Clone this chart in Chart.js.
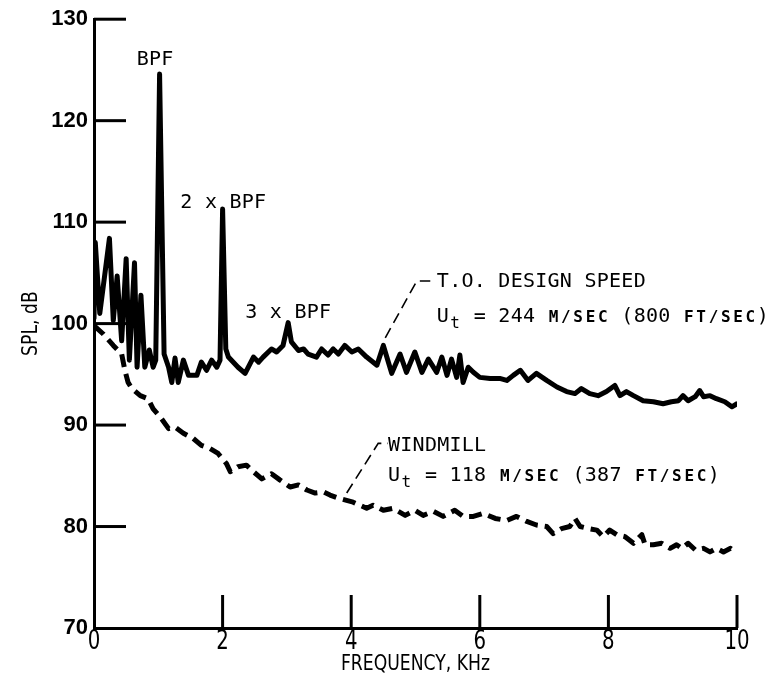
<!DOCTYPE html>
<html>
<head>
<meta charset="utf-8">
<script src="https://cdn.jsdelivr.net/npm/chart.js@4.4.1/dist/chart.umd.min.js"></script>
<style>
  html, body { margin: 0; padding: 0; background: #fff; }
  #grafica { display: block; }
</style>
</head>
<body>
<canvas id="grafica" width="777" height="683"></canvas>
<script>
// Datos: frecuencia (kHz) y nivel SPL (dB)
// Velocidad de diseño T.O. (línea continua)
const freqDiseno = [0.00, 0.02, 0.09, 0.24, 0.30, 0.36, 0.43, 0.50, 0.55, 0.63, 0.67, 0.73, 0.79, 0.86, 0.92, 0.96,
  1.02, 1.09, 1.16, 1.21, 1.26, 1.31, 1.39, 1.47, 1.60, 1.67, 1.75, 1.83, 1.91, 1.96, 2.00, 2.05, 2.09, 2.24, 2.35,
  2.48, 2.56, 2.63, 2.76, 2.84, 2.94, 3.02, 3.07, 3.18, 3.26, 3.33, 3.46, 3.54, 3.64, 3.72, 3.80, 3.90, 4.01, 4.11,
  4.24, 4.40, 4.50, 4.63, 4.76, 4.86, 4.99, 5.10, 5.20, 5.33, 5.41, 5.49, 5.56, 5.64, 5.69, 5.74, 5.82, 5.90, 6.00,
  6.16, 6.31, 6.42, 6.52, 6.63, 6.75, 6.88, 7.04, 7.20, 7.35, 7.48, 7.58, 7.71, 7.84, 7.97, 8.10, 8.18, 8.28, 8.39,
  8.54, 8.70, 8.85, 8.98, 9.09, 9.16, 9.24, 9.35, 9.42, 9.48, 9.58, 9.68, 9.81, 9.92, 10.00];
const splDiseno = [100.5, 108.0, 101.0, 108.4, 100.3, 104.7, 98.3, 106.4, 96.4, 106.0, 95.7, 102.8, 95.7, 97.4, 95.7, 96.4,
  124.6, 97.0, 95.7, 94.2, 96.6, 94.2, 96.4, 94.9, 94.9, 96.2, 95.4, 96.4, 95.7, 96.4, 111.3, 97.5, 96.7, 95.7, 95.1,
  96.7, 96.2, 96.7, 97.5, 97.2, 97.85, 100.1, 98.2, 97.35, 97.5, 97.0, 96.7, 97.5, 96.9, 97.5, 97.0, 97.85, 97.2, 97.5,
  96.7, 95.9, 97.85, 95.1, 97.0, 95.2, 97.2, 95.2, 96.5, 95.2, 96.7, 94.9, 96.5, 94.7, 96.9, 94.2, 95.7, 95.2, 94.7,
  94.6, 94.6, 94.4, 94.9, 95.4, 94.4, 95.1, 94.4, 93.75, 93.3, 93.1, 93.6, 93.1, 92.9, 93.3, 93.9, 92.9, 93.3, 92.9,
  92.4, 92.3, 92.1, 92.3, 92.4, 92.9, 92.4, 92.8, 93.4, 92.8, 92.9, 92.6, 92.3, 91.8, 92.1];

// Molinete (línea discontinua)
const freqMolino = [0.00, 0.14, 0.30, 0.43, 0.48, 0.53, 0.59, 0.72, 0.84, 0.92, 1.03, 1.16, 1.26, 1.39, 1.54, 1.67,
  1.80, 1.93, 2.06, 2.12, 2.24, 2.37, 2.48, 2.61, 2.76, 2.89, 3.05, 3.18, 3.31, 3.44, 3.57, 3.67, 3.80, 4.03, 4.24,
  4.34, 4.50, 4.65, 4.84, 4.99, 5.12, 5.28, 5.43, 5.61, 5.74, 5.90, 6.05, 6.24, 6.42, 6.57, 6.73, 6.88, 7.04, 7.14,
  7.27, 7.40, 7.48, 7.56, 7.69, 7.82, 7.92, 8.02, 8.13, 8.26, 8.39, 8.52, 8.57, 8.70, 8.83, 8.96, 9.06, 9.14, 9.24,
  9.35, 9.48, 9.58, 9.68, 9.79, 9.90, 9.97];
const splMolino = [99.8, 99.0, 97.85, 97.0, 95.4, 94.2, 93.6, 92.9, 92.6, 91.6, 90.8, 89.65, 89.8, 89.2, 88.7, 88.0,
  87.7, 87.2, 86.2, 85.4, 85.9, 86.05, 85.4, 84.7, 85.2, 84.6, 83.9, 84.1, 83.6, 83.3, 83.4, 83.1, 82.8, 82.4, 81.8,
  82.1, 81.6, 81.8, 81.1, 81.6, 81.1, 81.5, 81.0, 81.6, 81.0, 81.0, 81.3, 80.8, 80.6, 81.0, 80.5, 80.15, 80.0, 79.3,
  79.8, 80.0, 80.8, 80.0, 79.8, 79.65, 79.0, 79.65, 79.2, 79.0, 78.35, 79.2, 78.2, 78.2, 78.35, 77.85, 78.2, 77.85, 78.35,
  77.7, 77.85, 77.5, 77.85, 77.5, 77.85, 77.5];

// Marcas de los ejes
const ticksX = [0, 2, 4, 6, 8, 10];
const ticksY = [70, 80, 90, 100, 110, 120, 130];

// Textos de las anotaciones
const tituloX = 'FREQUENCY, KHz';
const tituloY = 'SPL, dB';
const textoDiseno = [['T.O. DESIGN SPEED']];
const velDiseno = [['U'], ['t', 'sub'], [' = 244 '], ['M/SEC', 'sc'], [' (800 '], ['FT/SEC', 'sc'], [')']];
const textoMolino = [['WINDMILL']];
const velMolino = [['U'], ['t', 'sub'], [' = 118 '], ['M/SEC', 'sc'], [' (387 '], ['FT/SEC', 'sc'], [')']];

const PASO = 12.3;
const FUENTE_MONO = '"DejaVu Sans Mono", "Liberation Mono", monospace';

// Escribe texto de paso fijo, con versalitas y subíndices
function escribirMono(ctx, partes, x0, yc) {
  let i = 0;
  ctx.textAlign = 'center';
  ctx.textBaseline = 'alphabetic';
  partes.forEach(([texto, estilo]) => {
    for (const ch of texto) {
      let fuente = '20px ';
      let base = yc + 7.5;
      if (estilo === 'sc') fuente = 'bold 16px ';
      if (estilo === 'sub') { fuente = '16px '; base += 6; }
      ctx.font = fuente + FUENTE_MONO;
      ctx.fillText(ch, x0 + i * PASO + PASO / 2, base);
      i++;
    }
  });
}

// Texto estrechado horizontalmente (como la rotulación original)
function escribirEstrecho(ctx, texto, cx, cy, size, factor, angulo) {
  ctx.save();
  ctx.translate(cx, cy);
  if (angulo) ctx.rotate(angulo);
  ctx.scale(factor, 1);
  ctx.font = size + 'px "DejaVu Sans", sans-serif';
  ctx.textAlign = 'center';
  ctx.textBaseline = 'middle';
  ctx.fillText(texto, 0, 0);
  ctx.restore();
}

function linea(ctx, puntos, dash, ancho) {
  ctx.beginPath();
  ctx.setLineDash(dash);
  ctx.lineWidth = ancho;
  puntos.forEach(([px, py], i) => (i ? ctx.lineTo(px, py) : ctx.moveTo(px, py)));
  ctx.stroke();
  ctx.setLineDash([]);
}

// Marcas hacia dentro, títulos y anotaciones
const anotaciones = {
  id: 'anotaciones',
  afterDatasetsDraw(chart) {
    const { ctx, chartArea: a, scales: { x, y } } = chart;
    ctx.save();
    ctx.strokeStyle = '#000';
    ctx.fillStyle = '#000';
    ctx.lineCap = 'butt';

    ticksY.forEach(v => {
      if (v === 70) return;
      const py = y.getPixelForValue(v);
      linea(ctx, [[a.left, py], [a.left + 32, py]], [], 3);
    });
    ticksX.forEach(v => {
      const px = x.getPixelForValue(v);
      if (v !== 0) linea(ctx, [[px, a.bottom], [px, a.bottom - 33]], [], 3);
      escribirEstrecho(ctx, String(v), px, a.bottom + 14, 26, 0.76);
    });

    // Líneas de referencia de las etiquetas
    linea(ctx, [[x.getPixelForValue(4.53), y.getPixelForValue(98.6)],
                [x.getPixelForValue(5.02), y.getPixelForValue(104.2)],
                [x.getPixelForValue(5.23), y.getPixelForValue(104.2)]], [11, 6], 1.6);
    linea(ctx, [[x.getPixelForValue(3.93), y.getPixelForValue(83.3)],
                [x.getPixelForValue(4.42), y.getPixelForValue(88.2)],
                [x.getPixelForValue(4.57), y.getPixelForValue(88.2)]], [11, 6], 1.6);

    escribirMono(ctx, [['BPF']], x.getPixelForValue(0.95) - 1.5 * PASO, y.getPixelForValue(126.2));
    escribirMono(ctx, [['2 x BPF']], x.getPixelForValue(1.34), y.getPixelForValue(112.1));
    escribirMono(ctx, [['3 x BPF']], x.getPixelForValue(2.35), y.getPixelForValue(101.3));
    escribirMono(ctx, textoDiseno, x.getPixelForValue(5.33), y.getPixelForValue(104.3));
    escribirMono(ctx, velDiseno, x.getPixelForValue(5.33), y.getPixelForValue(100.9));
    escribirMono(ctx, textoMolino, x.getPixelForValue(4.57), y.getPixelForValue(88.2));
    escribirMono(ctx, velMolino, x.getPixelForValue(4.57), y.getPixelForValue(85.2));

    // Títulos de los ejes
    escribirEstrecho(ctx, tituloX, (a.left + a.right) / 2, 665, 21, 0.82);
    escribirEstrecho(ctx, tituloY, 32, (a.top + a.bottom) / 2, 21, 0.82, -Math.PI / 2);

    ctx.restore();
  }
};

const puntos = (xs, ys) => xs.map((f, i) => ({ x: f, y: ys[i] }));

const ctx = document.getElementById('grafica').getContext('2d');
const grafica = new Chart(ctx, {
  type: 'line',
  data: {
    datasets: [
      {
        label: 'T.O. DESIGN SPEED',
        data: puntos(freqDiseno, splDiseno),
        borderColor: '#000',
        borderWidth: 5,
        borderJoinStyle: 'round',
        borderCapStyle: 'round',
        pointRadius: 0,
        tension: 0
      },
      {
        label: 'WINDMILL',
        data: puntos(freqMolino, splMolino),
        borderColor: '#000',
        borderWidth: 5,
        borderDash: [13, 7],
        borderJoinStyle: 'round',
        pointRadius: 0,
        tension: 0
      }
    ]
  },
  options: {
    responsive: false,
    animation: false,
    devicePixelRatio: 1,
    layout: { padding: { top: 18, right: 40, left: 0, bottom: 0 } },
    plugins: {
      legend: { display: false },
      tooltip: { enabled: false }
    },
    scales: {
      x: {
        type: 'linear',
        min: 0,
        max: 10,
        afterBuildTicks: s => { s.ticks = ticksX.map(v => ({ value: v })); },
        afterFit: s => { s.height = 55; },
        grid: { display: false, drawTicks: false },
        border: { display: true, color: '#000', width: 3 },
        ticks: { display: false }
      },
      y: {
        type: 'linear',
        min: 70,
        max: 130,
        afterBuildTicks: s => { s.ticks = ticksY.map(v => ({ value: v })); },
        afterFit: s => { s.width = 94; },
        grid: { display: false, drawTicks: false },
        border: { display: true, color: '#000', width: 3 },
        ticks: {
          padding: 6,
          color: '#000',
          font: { family: '"Liberation Sans", sans-serif', size: 22, weight: 'bold' }
        }
      }
    }
  },
  plugins: [anotaciones]
});
</script>
</body>
</html>
